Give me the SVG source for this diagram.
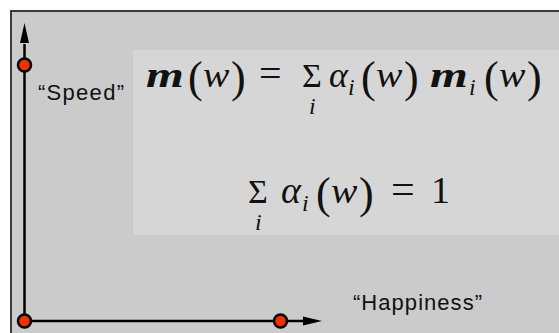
<svg xmlns="http://www.w3.org/2000/svg" width="559" height="333" viewBox="0 0 559 333">
<defs>
<circle id="dotshape" r="6.5" fill="#f83000" stroke="#000" stroke-width="2.5"/>
</defs>
<rect x="0" y="0" width="559" height="333" fill="#fff"/>
<rect id="frame" x="11" y="11" width="560" height="340" fill="#cbcbcb" stroke="#2a2a2a" stroke-width="1.8"/>
<rect id="panel" x="133" y="50" width="426" height="185" fill="#d6d6d6"/>
<g id="connectors" stroke="#000" stroke-width="2.5">
<line x1="24.5" y1="321" x2="24.5" y2="44"/>
<path d="M24.5,23 L29,43 L20,43 Z" fill="#000" stroke="none"/>
<line x1="24.5" y1="321" x2="304" y2="321"/>
<path d="M322,321 L303,316.5 L303,325.5 Z" fill="#000" stroke="none"/>
</g>
<g id="node-speed"><use href="#dotshape" x="24.5" y="65"/></g>
<g id="node-origin"><use href="#dotshape" x="24.5" y="321"/></g>
<g id="node-happiness"><use href="#dotshape" x="280.5" y="321"/></g>
<g id="labels" fill="#111">
<text font-family="Liberation Sans" font-size="22" x="38" y="100" textLength="86" lengthAdjust="spacing">“Speed”</text>
<text font-family="Liberation Sans" font-size="22" x="353" y="310" textLength="129" lengthAdjust="spacing">“Happiness”</text>
</g>
<g id="formula1" fill="#111">
<text font-family="Liberation Serif" font-style="italic" font-weight="bold" font-size="36" transform="translate(146,87) scale(1.35,1)">m</text>
<text font-family="Liberation Serif" font-size="44" x="188" y="92">(</text>
<text font-family="Liberation Serif" font-style="italic" font-size="36" transform="translate(203,87) scale(1.1,1)">w</text>
<text font-family="Liberation Serif" font-size="44" x="231" y="92">)</text>
<text font-family="Liberation Serif" font-size="40" x="259" y="87">=</text>
<text font-family="Liberation Serif" font-size="34" x="302" y="87">Σ</text>
<text font-family="Liberation Serif" font-style="italic" font-size="24" x="309" y="114">i</text>
<text font-family="Liberation Serif" font-style="italic" font-size="36" x="329" y="87">α</text>
<text font-family="Liberation Serif" font-style="italic" font-size="24" x="348" y="95">i</text>
<text font-family="Liberation Serif" font-size="44" x="361" y="92">(</text>
<text font-family="Liberation Serif" font-style="italic" font-size="36" transform="translate(376,87) scale(1.1,1)">w</text>
<text font-family="Liberation Serif" font-size="44" x="404" y="92">)</text>
<text font-family="Liberation Serif" font-style="italic" font-weight="bold" font-size="36" transform="translate(430,87) scale(1.35,1)">m</text>
<text font-family="Liberation Serif" font-style="italic" font-size="24" x="469" y="95">i</text>
<text font-family="Liberation Serif" font-size="44" x="484" y="92">(</text>
<text font-family="Liberation Serif" font-style="italic" font-size="36" transform="translate(499,87) scale(1.1,1)">w</text>
<text font-family="Liberation Serif" font-size="44" x="527" y="92">)</text>
</g>
<g id="formula2" fill="#111">
<text font-family="Liberation Serif" font-size="34" x="248" y="203">Σ</text>
<text font-family="Liberation Serif" font-style="italic" font-size="24" x="255" y="230">i</text>
<text font-family="Liberation Serif" font-style="italic" font-size="38" x="281" y="203">α</text>
<text font-family="Liberation Serif" font-style="italic" font-size="24" x="302" y="211">i</text>
<text font-family="Liberation Serif" font-size="44" x="316" y="208">(</text>
<text font-family="Liberation Serif" font-style="italic" font-size="36" transform="translate(331,203) scale(1.1,1)">w</text>
<text font-family="Liberation Serif" font-size="44" x="359" y="208">)</text>
<text font-family="Liberation Serif" font-size="42" x="391" y="203">=</text>
<text font-family="Liberation Serif" font-size="38" x="431" y="203">1</text>
</g>
</svg>
